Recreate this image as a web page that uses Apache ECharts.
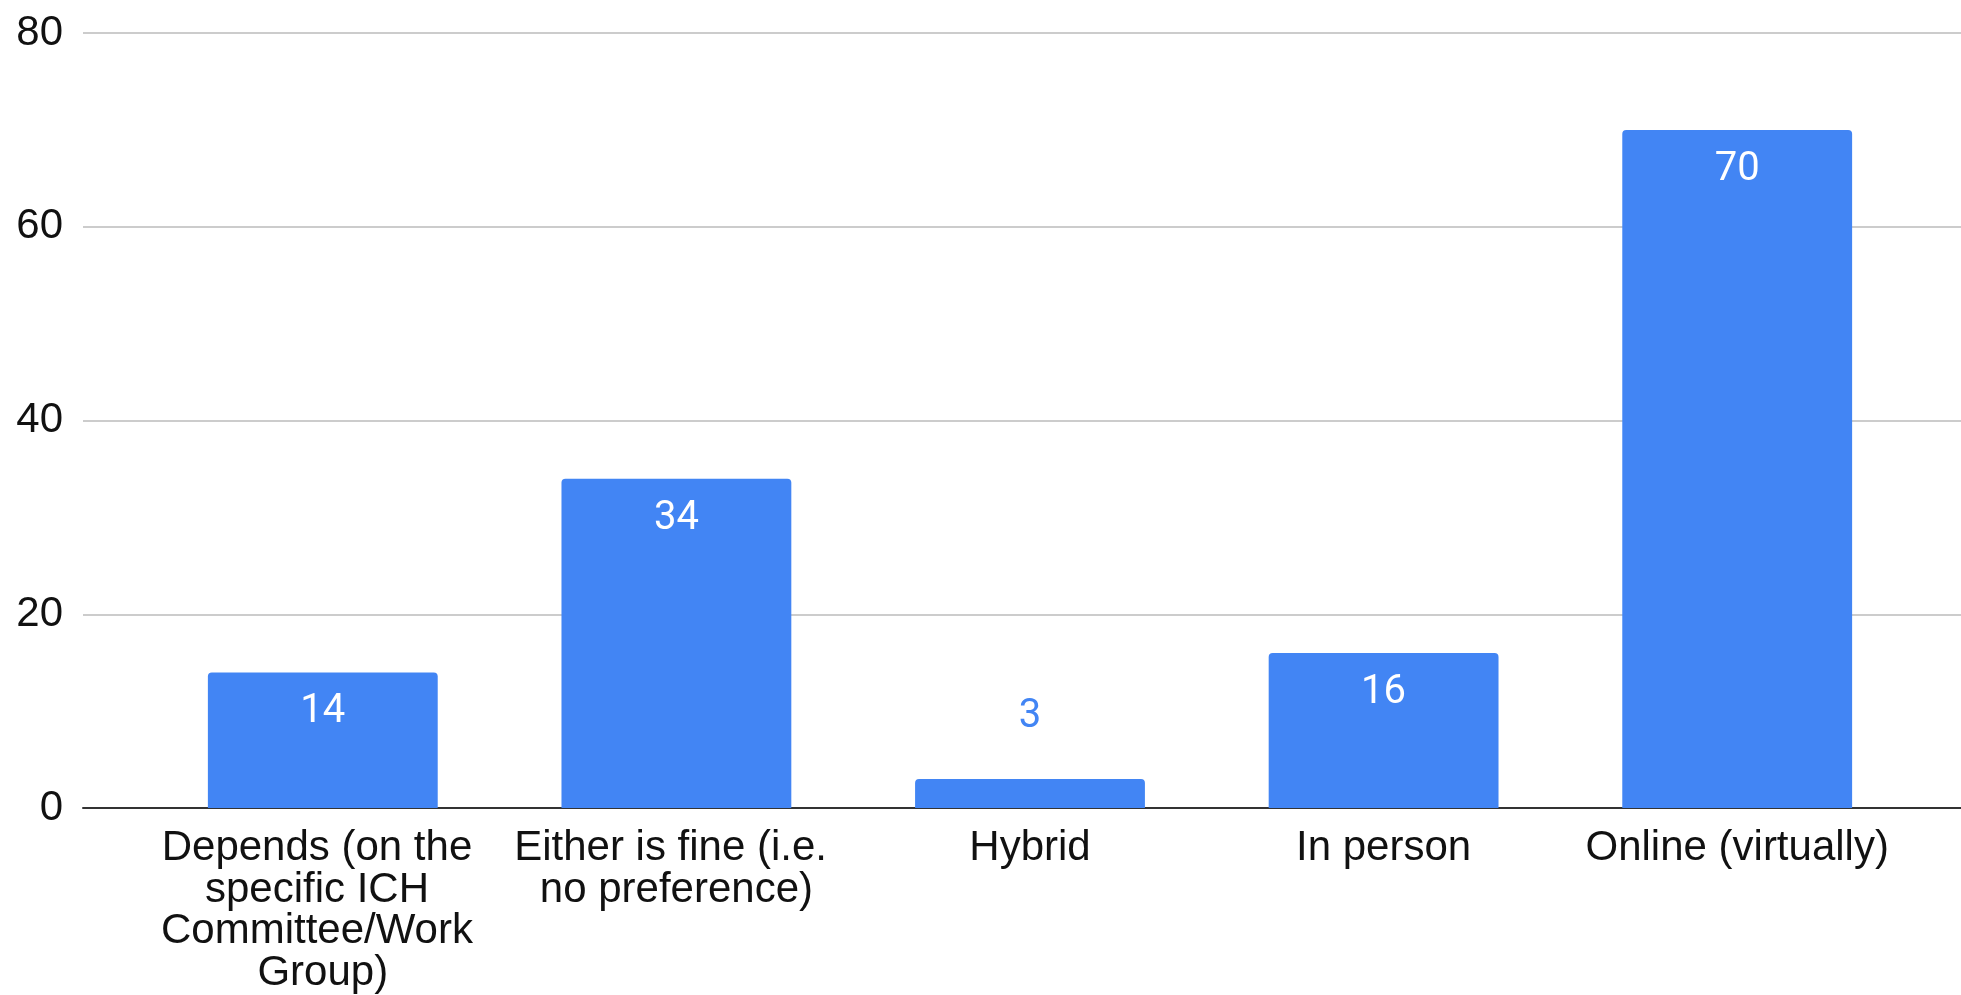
<!DOCTYPE html>
<html>
<head>
<meta charset="utf-8">
<script src="https://cdn.jsdelivr.net/npm/echarts@6/dist/echarts.min.js"></script>
<style>
  html, body { margin: 0; padding: 0; background: #fff; }
  #chart { width: 1961px; height: 995px; }
</style>
</head>
<body>
<div id="chart"></div>
<script>
// Preferred meeting format: response counts
const categories = [
  'Depends (on the specific ICH Committee/Work Group)',
  'Either is fine (i.e. no preference)',
  'Hybrid',
  'In person',
  'Online (virtually)'
];
const responses = [14, 34, 3, 16, 70];
const yTicks = [0, 20, 40, 60, 80];

const BLUE = '#4285F4';
const AXIS_FONT = '"Liberation Sans", Arial, Helvetica, sans-serif';
const LABEL_FONT = 'Roboto, "Liberation Sans", sans-serif';

// Values too small to hold their label inside the bar get it above, in blue.
const INSIDE_MIN = 8;
const barData = responses.map(v => {
  if (v >= INSIDE_MIN) return { value: v };
  return {
    value: v,
    label: { position: 'top', distance: 42, color: BLUE }
  };
});

const yMin = yTicks[0];
const yMax = yTicks[yTicks.length - 1];
const yStep = yTicks[1] - yTicks[0];

const chart = echarts.init(document.getElementById('chart'), null, { renderer: 'canvas' });
chart.setOption({
  animation: false,
  backgroundColor: '#ffffff',
  grid: [
    // full-width grid carrying the value axis and horizontal gridlines
    { left: 83, right: 0, top: 33, bottom: 187 },
    // inner grid where the category bars sit
    { left: 146, right: 47, top: 33, bottom: 187 }
  ],
  xAxis: [
    {
      gridIndex: 0, type: 'value', min: 0, max: 1,
      axisLabel: { show: false }, axisTick: { show: false },
      splitLine: { show: false },
      axisLine: { show: true, onZero: false, lineStyle: { color: '#333333', width: 2 } }
    },
    {
      gridIndex: 1, type: 'category', data: categories,
      axisLine: { show: false }, axisTick: { show: false },
      axisLabel: {
        interval: 0,
        margin: 20,
        color: '#111111',
        fontFamily: AXIS_FONT,
        fontSize: 42,
        lineHeight: 41.5,
        width: 330,
        overflow: 'break',
        align: 'center'
      }
    }
  ],
  yAxis: [
    {
      gridIndex: 0, type: 'value', min: yMin, max: yMax, interval: yStep,
      axisLine: { show: false }, axisTick: { show: false },
      axisLabel: {
        margin: 20,
        color: '#111111',
        fontFamily: AXIS_FONT,
        fontSize: 42
      },
      splitLine: { show: true, lineStyle: { color: '#cccccc', width: 2 } }
    },
    {
      gridIndex: 1, type: 'value', min: yMin, max: yMax, interval: yStep,
      show: false, splitLine: { show: false }
    }
  ],
  series: [
    {
      type: 'bar',
      xAxisIndex: 1,
      yAxisIndex: 1,
      data: barData,
      barCategoryGap: '35%',
      itemStyle: { color: BLUE, borderRadius: [4, 4, 0, 0] },
      label: {
        show: true,
        position: 'insideTop',
        distance: 20,
        color: '#ffffff',
        fontFamily: LABEL_FONT,
        fontSize: 40
      },
      z: 3
    }
  ]
});
</script>
</body>
</html>
